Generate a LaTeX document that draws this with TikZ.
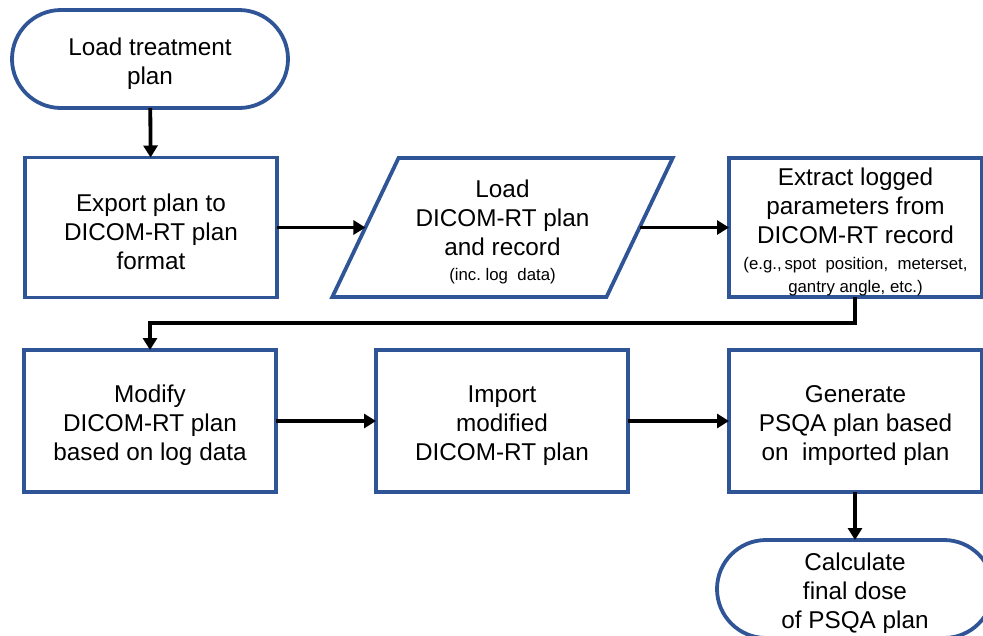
\documentclass[tikz,border=0pt]{standalone}
\usepackage{fontspec}
\setmainfont{Liberation Sans}
\usetikzlibrary{arrows.meta,shapes.geometric}
\definecolor{boxblue}{HTML}{2F5597}
\newcommand\smtxt{\fontsize{16.8}{21}\selectfont}
\newcommand\tp{\rule{0pt}{27pt}}
\tikzset{
  base/.style={draw=boxblue, line width=3.8pt, fill=white, align=center, inner sep=0pt, outer sep=0pt,
    font=\fontsize{24.3}{29}\selectfont},
  procbox/.style={base, rectangle, minimum width=252pt, minimum height=140pt},
  termbox/.style={base, rectangle, rounded corners=49pt, minimum width=276pt, minimum height=98pt},
  iobox/.style={base, trapezium, trapezium left angle=64, trapezium right angle=116,
    trapezium stretches=true, minimum width=341pt, minimum height=139pt},
  flow/.style={line width=3.8pt, -{Triangle[length=12pt,width=14pt]}}
}
\begin{document}
\begin{tikzpicture}[x=1pt,y=-1pt]
\useasboundingbox (0,0) rectangle (983,635);
\node[termbox] (t1) at (150,59) {\tp Load treatment\\plan};
\node[procbox] (export) at (151,227.5) {\tp Export plan to\\DICOM-RT plan\\format};
\node[iobox] (load) at (502.5,227.5) {\tp Load\\DICOM-RT plan\\and record\\[-4pt]{\smtxt (inc.\ log\ \ data)}};
\node[procbox, minimum width=253pt, minimum height=139pt] (extract) at (855.5,227.5) {\tp Extract logged\\parameters from\\DICOM-RT record\\[-3pt]{\smtxt (e.g.,\,spot\ \ position,\ \ meterset,}\\[-6pt]{\smtxt gantry angle, etc.)}};
\node[procbox, minimum height=142pt] (modify) at (150,421) {\tp Modify\\DICOM-RT plan\\based on log data};
\node[procbox, minimum height=142pt] (import) at (502,421) {\tp Import\\modified\\DICOM-RT plan};
\node[procbox, minimum height=142pt, minimum width=253pt] (generate) at (855.5,421) {\tp Generate\\PSQA plan based\\on\ \ imported plan};
\node[termbox] (t2) at (855,589) {\tp Calculate\\final dose\\of PSQA plan};
\coordinate (elbow) at (855,323);
\draw[flow] (t1) -- (export);
\draw[flow] (export.east) -- (load.left side);
\draw[flow] (load.right side) -- (extract.west);
\draw[flow] (extract.south -| elbow) -- (elbow) -| (modify.north);
\draw[flow] (modify) -- (import);
\draw[flow] (import) -- (generate);
\draw[flow] (generate.south -| t2) -- (t2.north);
\end{tikzpicture}
\end{document}
